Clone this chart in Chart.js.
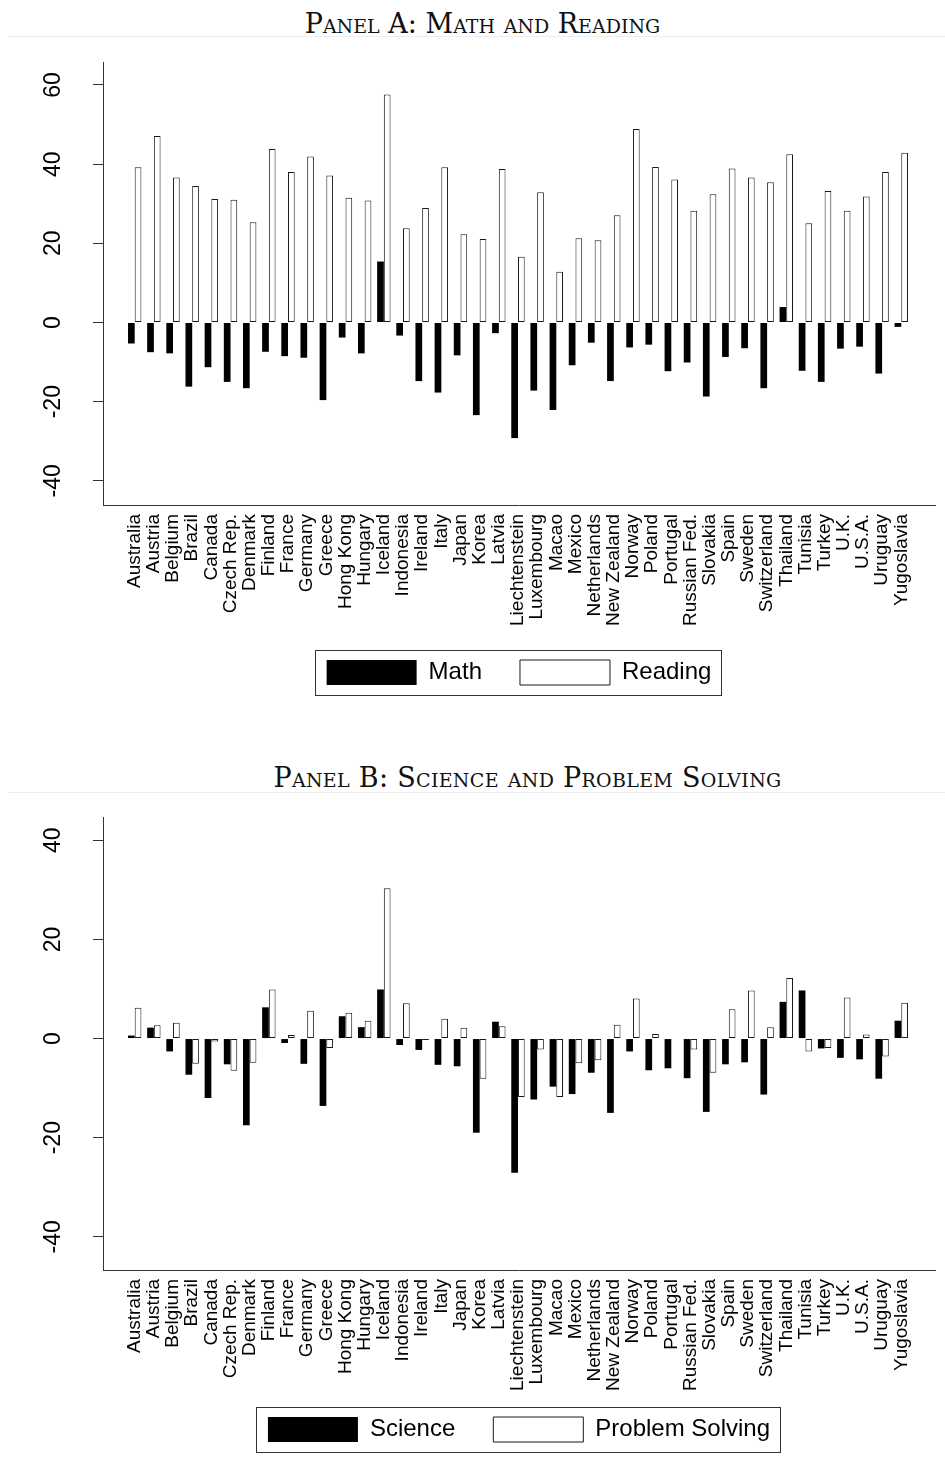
<!DOCTYPE html>
<html>
<head>
<meta charset="utf-8">
<title>PISA score gaps by country</title>
<script src="https://cdn.jsdelivr.net/npm/chart.js@4.4.1/dist/chart.umd.min.js"></script>
<style>
  html, body { margin: 0; padding: 0; background: #fff; }
  #page { position: relative; width: 945px; height: 1475px; overflow: hidden; background: #fff; }
  .title {
    position: absolute; width: 945px; text-align: center;
    font-family: "DejaVu Serif", serif; font-variant: small-caps;
    font-size: 27px; line-height: 27px; color: #111; white-space: nowrap;
  }
  .rule { position: absolute; left: 8px; width: 937px; height: 1px; background: #eeeeee; }
  .panel { position: absolute; left: 0; width: 945px; }
  canvas { display: block; }
</style>
</head>
<body>
<div id="page">
  <div class="title" style="left:10px; top:10px;">Panel A: Math and Reading</div>
  <div class="rule" style="top:36px;"></div>
  <div class="panel" style="top:40px; height:700px;"><canvas id="chartA" width="945" height="700"></canvas></div>

  <div class="title" style="left:55px; top:764px; letter-spacing:0.3px;">Panel B: Science and Problem Solving</div>
  <div class="rule" style="top:792px;"></div>
  <div class="panel" style="top:796px; height:679px;"><canvas id="chartB" width="945" height="679"></canvas></div>
</div>

<script>
// Countries on the horizontal axis
const countries = [
  "Australia", "Austria", "Belgium", "Brazil", "Canada", "Czech Rep.", "Denmark",
  "Finland", "France", "Germany", "Greece", "Hong Kong", "Hungary", "Iceland",
  "Indonesia", "Ireland", "Italy", "Japan", "Korea", "Latvia", "Liechtenstein",
  "Luxembourg", "Macao", "Mexico", "Netherlands", "New Zealand", "Norway", "Poland",
  "Portugal", "Russian Fed.", "Slovakia", "Spain", "Sweden", "Switzerland", "Thailand",
  "Tunisia", "Turkey", "U.K.", "U.S.A.", "Uruguay", "Yugoslavia"
];

// Panel A series
const math = [
  -5.3, -7.5, -7.8, -16.2, -11.3, -15.0, -16.6,
  -7.4, -8.5, -8.9, -19.6, -3.8, -7.8, 15.4,
  -3.3, -14.8, -17.7, -8.3, -23.4, -2.7, -29.2,
  -17.2, -22.1, -10.8, -5.1, -14.8, -6.3, -5.6,
  -12.3, -10.1, -18.7, -8.7, -6.5, -16.6, 3.9,
  -12.2, -15.0, -6.6, -6.1, -12.9, -1.1
];
const reading = [
  39.2, 47.1, 36.6, 34.5, 31.2, 31.0, 25.3,
  43.8, 38.0, 41.9, 37.1, 31.5, 30.8, 57.6,
  23.8, 28.9, 39.2, 22.3, 21.1, 38.8, 16.6,
  32.9, 12.8, 21.3, 20.8, 27.1, 48.9, 39.3,
  36.1, 28.2, 32.4, 38.9, 36.6, 35.4, 42.5,
  25.1, 33.2, 28.2, 31.8, 38.0, 42.9
];

// Panel B series
const science = [
  0.6, 2.2, -2.6, -7.3, -12.0, -5.2, -17.5,
  6.3, -0.9, -5.1, -13.6, 4.5, 2.3, 9.9,
  -1.3, -2.3, -5.3, -5.6, -19.0, 3.4, -27.1,
  -12.3, -9.7, -11.2, -6.9, -15.0, -2.6, -6.4,
  -6.0, -8.0, -14.8, -5.2, -4.8, -11.3, 7.4,
  9.7, -2.0, -3.9, -4.2, -8.1, 3.6
];
const problemSolving = [
  6.2, 2.7, 3.2, -5.1, -0.6, -6.5, -4.9,
  9.9, 0.7, 5.6, -1.9, 5.2, 3.6, 30.3,
  7.1, -0.3, 4.0, 2.2, -8.1, 2.5, -11.8,
  -2.2, -11.8, -5.0, -4.4, 2.8, 8.1, 0.9,
  null, -2.2, -6.9, 5.9, 9.7, 2.3, 12.2,
  -2.6, -1.9, 8.3, 0.8, -3.6, 7.2
];

// Axis ticks
const yTicksA = [-40, -20, 0, 20, 40, 60];
const yTicksB = [-40, -20, 0, 20, 40];

const SANS = '"Liberation Sans", Arial, sans-serif';
const INK = '#333';
const OUTLINE = '#1a1a1a';

// Bars on a numeric x axis, one slot per country
const toPoints = values => values.map((v, i) => ({ x: i, y: v }));

// Keeps the legend centred under the plot at a set height and frames it
const legendFrame = {
  id: 'legendFrame',
  afterUpdate(chart, args, opts) {
    const lg = chart.legend;
    if (!lg || !lg.legendHitBoxes || !lg.legendHitBoxes.length) return;
    const ca = chart.chartArea;
    const dx = (ca.left + ca.right) / 2 - (lg.left + lg.right) / 2;
    const dy = opts.itemTop - lg.legendHitBoxes[0].top;
    lg.left += dx; lg.right += dx;
    lg.top += dy; lg.bottom += dy;
    lg.legendHitBoxes.forEach(h => { h.left += dx; h.top += dy; });
  },
  afterDraw(chart, args, opts) {
    const hb = chart.legend.legendHitBoxes;
    if (!hb || !hb.length) return;
    const first = hb[0], last = hb[hb.length - 1];
    const m = opts.margin;
    const ctx = chart.ctx;
    ctx.save();
    ctx.strokeStyle = INK;
    ctx.lineWidth = 1;
    const x0 = Math.round(first.left - m - 2) + 0.5;
    const y0 = Math.round(first.top - m) + 0.5;
    const x1 = Math.round(last.left + last.width + m) + 0.5;
    const y1 = Math.round(first.top + first.height + m) + 0.5;
    ctx.strokeRect(x0, y0, x1 - x0, y1 - y0);
    ctx.restore();
  }
};

function drawPanel(canvasId, cfg) {
  const names = countries;
  return new Chart(document.getElementById(canvasId), {
    type: 'bar',
    data: {
      datasets: [
        {
          label: cfg.darkLabel,
          data: toPoints(cfg.dark),
          backgroundColor: '#000',
          borderColor: '#000',
          borderWidth: 0
        },
        {
          label: cfg.lightLabel,
          data: toPoints(cfg.light),
          backgroundColor: '#fff',
          borderColor: OUTLINE,
          borderWidth: 1,
          borderSkipped: false
        }
      ]
    },
    options: {
      responsive: false,
      devicePixelRatio: 1,
      animation: false,
      categoryPercentage: 0.7,
      barPercentage: 1.0,
      layout: { padding: { top: cfg.padTop, left: 0, right: 10, bottom: 0 } },
      scales: {
        x: {
          type: 'linear',
          min: -1.654,
          max: 41.76,
          bounds: 'data',
          offset: false,
          grid: { display: false, drawTicks: false },
          border: { display: true, color: INK, width: 1 },
          afterBuildTicks: s => { s.ticks = names.map((_, i) => ({ value: i })); },
          ticks: {
            autoSkip: false,
            minRotation: 90,
            maxRotation: 90,
            padding: 9,
            color: '#000',
            font: { family: SANS, size: 19 },
            callback: v => names[v]
          },
          afterFit: s => {
            s.height = cfg.xAxisHeight;
            s.paddingLeft = 0;
            s.paddingRight = 0;
          }
        },
        y: {
          min: cfg.yMin,
          max: cfg.yMax,
          bounds: 'data',
          afterBuildTicks: s => { s.ticks = cfg.yTicks.map(v => ({ value: v })); },
          grid: { display: true, drawOnChartArea: false, drawTicks: true, tickLength: 10, color: INK, lineWidth: 1 },
          border: { display: true, color: INK, width: 1 },
          ticks: {
            minRotation: 90,
            maxRotation: 90,
            crossAlign: 'center',
            padding: 23,
            color: '#000',
            font: { family: SANS, size: 23 }
          },
          afterFit: s => {
            s.width = 103;
            s.paddingTop = 0;
            s.paddingBottom = 0;
          }
        }
      },
      plugins: {
        tooltip: { enabled: false },
        title: { display: false },
        legend: {
          display: true,
          position: 'bottom',
          labels: {
            boxWidth: 90,
            boxHeight: 25,
            padding: 38,
            color: '#000',
            font: { family: SANS, size: 24 }
          }
        },
        legendFrame: { itemTop: cfg.legendTop, margin: 10 }
      }
    },
    plugins: [legendFrame]
  });
}

drawPanel('chartA', {
  dark: math, light: reading,
  darkLabel: 'Math', lightLabel: 'Reading',
  yMin: -46.1, yMax: 65.8, yTicks: yTicksA,
  padTop: 22, xAxisHeight: 162, legendTop: 620
});

drawPanel('chartB', {
  dark: science, light: problemSolving,
  darkLabel: 'Science', lightLabel: 'Problem Solving',
  yMin: -46.7, yMax: 44.7, yTicks: yTicksB,
  padTop: 21, xAxisHeight: 132, legendTop: 621
});
</script>
</body>
</html>
